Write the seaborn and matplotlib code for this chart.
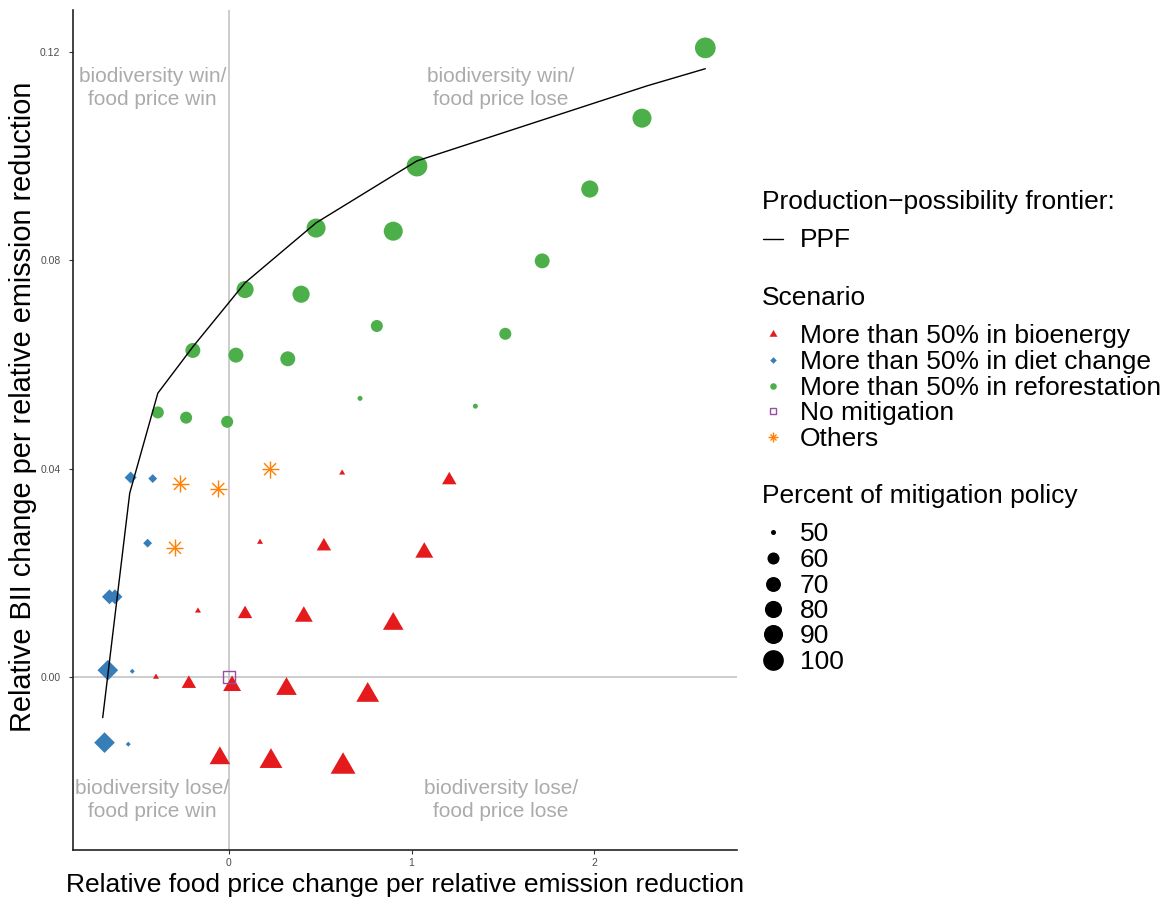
import numpy as np
import pandas as pd
import matplotlib.pyplot as plt
import seaborn as sns
from matplotlib.lines import Line2D

W, H, DPI = 1170, 902, 100

# ---- data ----
ppf_x = [-0.692, -0.544, -0.390, -0.198, 0.088, 0.477, 1.030, 2.290, 2.610]
ppf_y = [-0.0078, 0.0353, 0.0545, 0.0634, 0.0757, 0.0872, 0.0991, 0.1135, 0.1168]

bio_x = [0.62, 1.207, 0.17, 0.52, 1.07, -0.17, 0.088, 0.41, 0.90,
         -0.40, -0.22, 0.017, 0.315, 0.76, -0.05, 0.23, 0.625]
bio_y = [0.0392, 0.0378, 0.0259, 0.0251, 0.0239, 0.0127, 0.0121, 0.0116, 0.0102,
         0.0000, -0.0013, -0.0017, -0.0023, -0.0035, -0.0156, -0.0162, -0.0172]
bio_pct = [50, 60, 50, 60, 70, 50, 60, 70, 80, 50, 60, 70, 80, 90, 80, 90, 100]

diet_x = [-0.539, -0.418, -0.446, -0.655, -0.625, -0.664, -0.530, -0.682, -0.552]
diet_y = [0.0383, 0.0381, 0.0257, 0.0154, 0.0154, 0.0013, 0.0011, -0.0126, -0.0129]
diet_pct = [60, 53, 53, 70, 70, 100, 50, 100, 50]

refor_x = [2.61, 2.263, 1.977, 1.716, 1.514, 1.35, 1.03, 0.90, 0.81, 0.718,
           0.477, 0.395, 0.322, 0.088, 0.038, -0.01, -0.198, -0.235, -0.39]
refor_y = [0.1208, 0.1073, 0.0937, 0.0799, 0.0659, 0.0520, 0.0981, 0.0856, 0.0674, 0.0535,
           0.0862, 0.0735, 0.0611, 0.0744, 0.0618, 0.0490, 0.0627, 0.0498, 0.0508]
refor_pct = [100, 90, 80, 70, 60, 50, 100, 90, 60, 50, 90, 80, 70, 80, 70, 60, 70, 60, 60]

nomit_x = [0.0]
nomit_y = [0.0]
nomit_pct = [60]

other_x = [-0.268, -0.059, 0.225, -0.296]
other_y = [0.0371, 0.0361, 0.0399, 0.0248]
other_pct = [60, 60, 60, 60]

scenarios = ["More than 50% in bioenergy", "More than 50% in diet change",
             "More than 50% in reforestation", "No mitigation", "Others"]
size_breaks = [50, 60, 70, 80, 90, 100]

quad_labels = ["biodiversity win/\nfood price win", "biodiversity win/\nfood price lose",
               "biodiversity lose/\nfood price win", "biodiversity lose/\nfood price lose"]
quad_x = [-0.42, 1.49, -0.42, 1.49]
quad_y = [0.1131, 0.1131, -0.0236, -0.0236]

df = pd.concat([
    pd.DataFrame({"x": bio_x, "y": bio_y, "pct": bio_pct, "scenario": scenarios[0]}),
    pd.DataFrame({"x": diet_x, "y": diet_y, "pct": diet_pct, "scenario": scenarios[1]}),
    pd.DataFrame({"x": refor_x, "y": refor_y, "pct": refor_pct, "scenario": scenarios[2]}),
    pd.DataFrame({"x": nomit_x, "y": nomit_y, "pct": nomit_pct, "scenario": scenarios[3]}),
    pd.DataFrame({"x": other_x, "y": other_y, "pct": other_pct, "scenario": scenarios[4]}),
], ignore_index=True)
ppf = pd.DataFrame({"x": ppf_x, "y": ppf_y})

# ---- styling ----
sns.set_theme(style="ticks")
plt.rcParams["font.family"] = ["Liberation Sans", "DejaVu Sans"]
plt.rcParams["text.color"] = "black"
plt.rcParams["axes.labelcolor"] = "black"

TRI = [(-1, -0.577), (1, -0.577), (0, 1.155)]
colors = {
    scenarios[0]: "#E41A1C",
    scenarios[1]: "#377EB8",
    scenarios[2]: "#4DAF4A",
    scenarios[3]: "#984EA3",
    scenarios[4]: "#FF7F00",
}
# marker, markersize relative to circle diameter, filled
markers = {
    scenarios[0]: [(TRI, 1.386, True)],
    scenarios[1]: [("D", 0.707, True)],
    scenarios[2]: [("o", 1.0, True)],
    scenarios[3]: [("s", 1.0, False)],
    scenarios[4]: [("+", 1.414, False), ("x", 1.0, False)],
}


def diam_px(pct):
    # ggplot-like area scale: size 1..6 over 50..100
    g = 1 + 5 * np.sqrt((np.asarray(pct, float) - 50) / 50)
    return 3.14 * g + 1.86


def px2fig(px, py):
    return px / W, 1 - py / H


fig = plt.figure(figsize=(W / DPI, H / DPI), dpi=DPI)
ax = fig.add_axes([73 / W, 52 / H, (737 - 73) / W, (850 - 10) / H])

ax.axhline(0, color="#BEBEBE", lw=1.1, zorder=1)
ax.axvline(0, color="#BEBEBE", lw=1.1, zorder=1)

for sc in scenarios:
    sub = df[df["scenario"] == sc]
    for mk, fac, filled in markers[sc]:
        sizes = {lv: (fac * diam_px(lv) * 72 / DPI) ** 2 for lv in sorted(sub["pct"].unique())}
        if filled:
            kws = dict(linewidth=0)
        elif mk == "s":
            kws = dict(linewidth=1.0, facecolor="none", edgecolor=colors[sc])
        else:
            kws = dict(linewidth=1.0)
        sns.scatterplot(data=sub, x="x", y="y", size="pct", sizes=sizes, marker=mk,
                        color=colors[sc], legend=False, ax=ax, zorder=3, **kws)

sns.lineplot(data=ppf, x="x", y="y", sort=False, estimator=None, color="black",
             linewidth=1.0, ax=ax, zorder=4)

for lab, qx, qy in zip(quad_labels, quad_x, quad_y):
    ax.text(qx, qy, lab, ha="center", va="center", fontsize=15, color="#ABABAB",
            linespacing=1.32, zorder=2)

ax.set_xlim((73 - 229) / 182.5, (737 - 229) / 182.5)
ax.set_ylim((677 - 850) / 5208, (677 - 10) / 5208)
ax.set_xticks([0, 1, 2])
ax.set_yticks([0.0, 0.04, 0.08, 0.12])
ax.set_yticklabels(["0.00", "0.04", "0.08", "0.12"])
ax.tick_params(axis="both", labelsize=7.5, labelcolor="#4D4D4D", color="#333333",
               length=3, width=0.8, pad=2.5)
ax.tick_params(axis="y", pad=6)
sns.despine(ax=ax)
for sp in ["left", "bottom"]:
    ax.spines[sp].set_color("#222222")
    ax.spines[sp].set_linewidth(1.2)

ax.set_xlabel("Relative food price change per relative emission reduction", fontsize=19)
ax.set_ylabel("Relative BII change per relative emission reduction", fontsize=20.8)
ax.xaxis.set_label_coords(0.5, -(873 - 850) / 840)
ax.yaxis.set_label_coords(-(73 - 37) / 664, (850 - 407) / 840)

# ---- legends, drawn in ggplot layout ----
TX, KX, LX = 762, 773, 800
FS = 19


def fig_text(px, py, s):
    fx, fy = px2fig(px, py)
    fig.text(fx, fy, s, fontsize=FS, ha="left", va="baseline", color="black")


def fig_key(px, py, mk, ms_px, color, filled, lw=1.0):
    fx, fy = px2fig(px, py)
    fig.add_artist(Line2D([fx], [fy], transform=fig.transFigure, linestyle="none",
                          marker=mk, markersize=ms_px * 72 / DPI, color=color,
                          markerfacecolor=color if filled else "none",
                          markeredgewidth=0 if filled else lw))


fig_text(TX, 209, "Production\u2212possibility frontier:")
x0, y0 = px2fig(763, 238.5)
x1, _ = px2fig(783, 238.5)
fig.add_artist(Line2D([x0, x1], [y0, y0], transform=fig.transFigure, color="black", lw=1.0))
fig_text(LX, 247, "PPF")

fig_text(TX, 305, "Scenario")
key_d = 3.14 * 1.5 + 1.86
scen_base = [343, 369, 395, 420, 446]
for sc, yb in zip(scenarios, scen_base):
    for mk, fac, filled in markers[sc]:
        fig_key(KX, yb - 9, mk, fac * key_d, colors[sc], filled)
    fig_text(LX, yb, sc)

fig_text(TX, 503, "Percent of mitigation policy")
size_base = [541, 567, 593, 618, 643, 669]
for lv, yb in zip(size_breaks, size_base):
    fig_key(KX, yb - 9, "o", diam_px(lv), "black", True)
    fig_text(LX, yb, str(lv))

fig.savefig("out.png", dpi=DPI)
